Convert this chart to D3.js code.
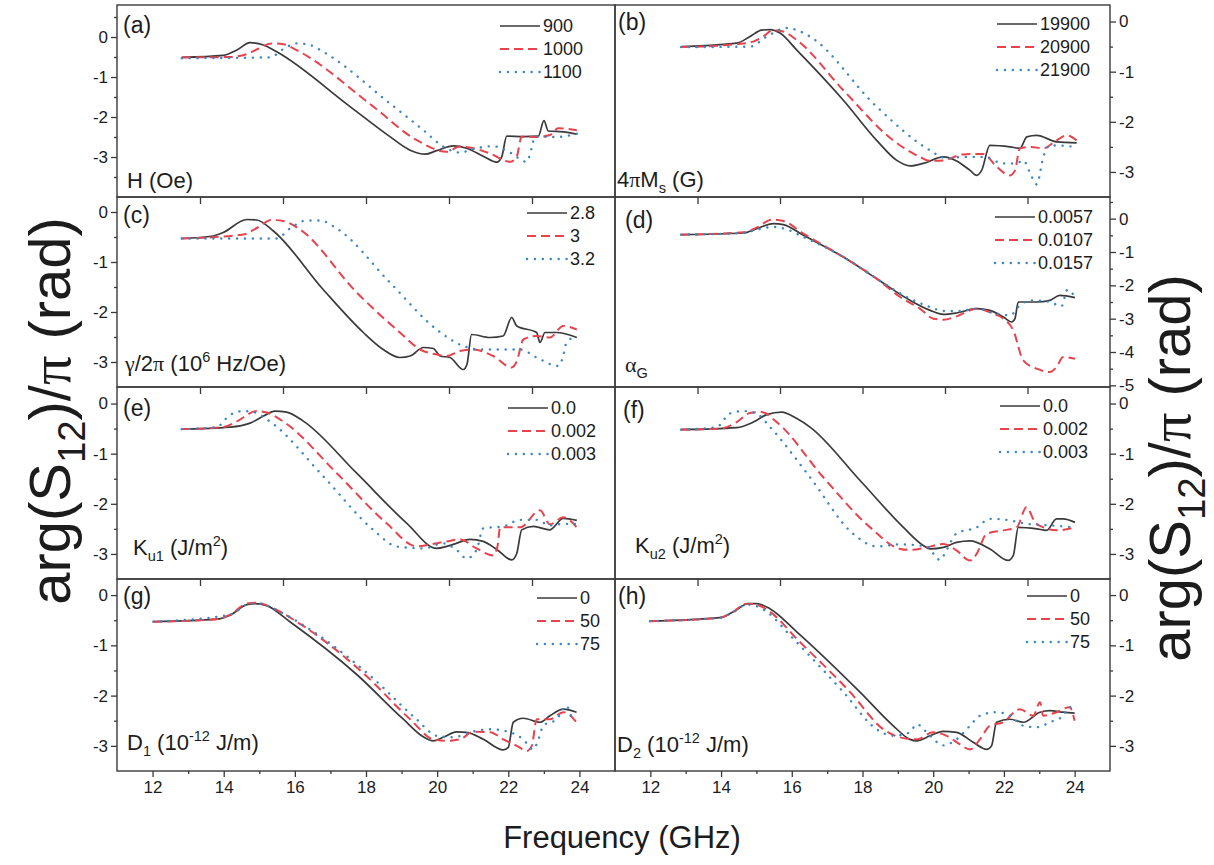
<!DOCTYPE html>
<html>
<head>
<meta charset="utf-8">
<script src="https://cdn.jsdelivr.net/npm/d3@7"></script>
<style>
  html, body { margin: 0; padding: 0; background: #fff; }
  svg { display: block; }
</style>
</head>
<body>
<svg id="chart" width="1214" height="865"></svg>
<script>
// ---------- data: phase arg(S12)/pi versus frequency (GHz) ----------
// (a) bias field H (Oe)
const aLabels = ["900", "1000", "1100"];
const aSolid = [[11.95,-0.51],[13.2,-0.46],[13.6,-0.33],[14.01,-0.14],[14.41,-0.2],[14.81,-0.37],[17.02,-1.74],[18.22,-2.49],[18.83,-2.83],[19.28,-2.93],[19.63,-2.84],[20.13,-2.72],[20.53,-2.78],[21.03,-2.98],[21.44,-3.13],[21.59,-2.99],[21.74,-2.48],[22.24,-2.49],[22.69,-2.48],[22.86,-2.09],[22.99,-2.35],[23.44,-2.37],[23.85,-2.43]];
const aDash = [[11.95,-0.51],[13.4,-0.5],[13.91,-0.43],[14.21,-0.31],[14.66,-0.16],[15.01,-0.18],[15.41,-0.33],[17.72,-1.74],[19.03,-2.58],[19.93,-2.87],[20.33,-2.74],[20.73,-2.78],[21.23,-2.91],[21.84,-3.12],[22.04,-2.99],[22.19,-2.49],[22.64,-2.5],[23.04,-2.45],[23.29,-2.28],[23.85,-2.33]];
const aDot = [[11.95,-0.53],[14.61,-0.51],[15.01,-0.3],[15.41,-0.16],[15.81,-0.2],[16.21,-0.37],[18.22,-1.66],[19.23,-2.33],[19.83,-2.74],[20.33,-2.89],[20.73,-2.8],[21.33,-2.73],[21.84,-2.89],[22.34,-3.12],[22.49,-2.77],[22.59,-2.49],[23.24,-2.5],[23.85,-2.42]];

// (b) saturation magnetisation 4piMs (G)
const bLabels = ["19900", "20900", "21900"];
const bSolid = [[12.0,-0.5],[13.69,-0.43],[14.09,-0.3],[14.44,-0.17],[14.7,-0.16],[15.0,-0.23],[15.51,-0.57],[16.92,-1.57],[17.93,-2.37],[18.54,-2.77],[18.94,-2.88],[19.34,-2.83],[19.95,-2.7],[20.35,-2.78],[20.76,-2.97],[20.96,-3.07],[21.11,-2.97],[21.36,-2.47],[21.97,-2.5],[22.27,-2.53],[22.48,-2.3],[22.78,-2.27],[23.38,-2.4],[23.99,-2.42]];
const bDash = [[12.0,-0.51],[13.69,-0.45],[14.19,-0.4],[14.49,-0.3],[14.8,-0.17],[15.1,-0.2],[15.51,-0.37],[16.92,-1.37],[18.43,-2.37],[19.24,-2.7],[19.55,-2.78],[19.95,-2.77],[20.55,-2.65],[21.16,-2.64],[21.57,-2.9],[21.97,-3.07],[22.12,-2.97],[22.27,-2.53],[22.58,-2.5],[22.98,-2.53],[23.38,-2.37],[23.69,-2.27],[23.99,-2.37]];
const bDot = [[12.0,-0.51],[14.09,-0.5],[14.6,-0.3],[15.2,-0.13],[15.51,-0.17],[15.91,-0.3],[17.93,-1.7],[19.55,-2.57],[20.05,-2.73],[20.55,-2.7],[21.16,-2.7],[21.77,-2.83],[22.17,-2.83],[22.37,-2.77],[22.63,-3.1],[22.78,-3.25],[22.98,-2.7],[23.18,-2.47],[23.99,-2.5]];

// (c) gyromagnetic ratio gamma/2pi (10^6 Hz/Oe)
const cLabels = ["2.8", "3", "3.2"];
const cSolid = [[11.95,-0.53],[12.9,-0.48],[13.2,-0.41],[13.91,-0.15],[14.21,-0.16],[14.71,-0.38],[16.21,-1.55],[17.42,-2.41],[18.02,-2.75],[18.52,-2.91],[18.83,-2.88],[19.23,-2.71],[19.53,-2.73],[19.73,-2.88],[20.03,-2.91],[20.43,-3.15],[20.54,-3.05],[20.68,-2.45],[21.23,-2.51],[21.63,-2.48],[21.89,-2.11],[22.04,-2.28],[22.64,-2.41],[22.74,-2.61],[22.89,-2.41],[23.24,-2.41],[23.85,-2.51]];
const cDash = [[11.95,-0.53],[13.81,-0.45],[14.21,-0.32],[14.66,-0.16],[15.01,-0.18],[15.51,-0.35],[17.22,-1.61],[18.52,-2.41],[19.13,-2.75],[19.63,-2.85],[19.93,-2.88],[20.33,-2.78],[20.73,-2.75],[21.33,-2.88],[21.89,-3.11],[22.04,-2.99],[22.24,-2.55],[22.64,-2.48],[23.04,-2.51],[23.44,-2.28],[23.85,-2.35]];
const cDot = [[11.95,-0.53],[14.81,-0.53],[15.21,-0.33],[15.71,-0.17],[16.11,-0.17],[16.62,-0.33],[18.22,-1.41],[19.63,-2.35],[20.43,-2.68],[20.93,-2.75],[21.54,-2.75],[22.14,-2.75],[22.64,-2.91],[23.29,-3.08],[23.44,-2.88],[23.54,-2.61],[23.85,-2.48]];

// (d) Gilbert damping alpha_G
const dLabels = ["0.0057", "0.0107", "0.0157"];
const dSolid = [[12.0,-0.48],[13.89,-0.43],[14.29,-0.3],[14.8,-0.15],[15.1,-0.18],[15.71,-0.5],[16.92,-1.15],[17.93,-1.8],[18.94,-2.45],[19.55,-2.75],[19.95,-2.87],[20.35,-2.83],[20.96,-2.7],[21.36,-2.75],[21.77,-2.95],[22.02,-3.1],[22.12,-3.0],[22.22,-2.5],[22.78,-2.5],[23.18,-2.45],[23.48,-2.3],[23.94,-2.37]];
const dDash = [[12.0,-0.48],[13.89,-0.41],[14.29,-0.27],[14.75,-0.03],[15.1,-0.07],[15.71,-0.45],[16.92,-1.15],[17.93,-1.8],[18.64,-2.35],[19.24,-2.7],[19.65,-3.0],[19.95,-3.03],[20.35,-2.93],[20.96,-2.7],[21.46,-2.85],[21.77,-3.0],[22.07,-3.35],[22.37,-4.25],[22.78,-4.5],[23.18,-4.6],[23.38,-4.45],[23.58,-4.15],[23.94,-4.2]];
const dDot = [[12.0,-0.48],[13.89,-0.43],[14.29,-0.33],[14.8,-0.25],[15.2,-0.32],[15.71,-0.55],[16.92,-1.15],[17.93,-1.8],[18.94,-2.4],[19.55,-2.65],[19.95,-2.77],[20.45,-2.77],[20.96,-2.7],[21.46,-2.83],[21.97,-2.9],[22.27,-2.6],[22.58,-2.45],[23.18,-2.5],[23.53,-2.63],[23.71,-2.13],[23.94,-2.35]];

// (e) first-order uniaxial anisotropy Ku1 (J/m^2)
const eLabels = ["0.0", "0.002", "0.003"];
const eSolid = [[11.95,-0.51],[13.4,-0.47],[14.01,-0.39],[14.41,-0.25],[14.76,-0.15],[15.11,-0.17],[15.61,-0.35],[17.22,-1.39],[18.73,-2.39],[19.63,-2.89],[19.93,-2.85],[20.13,-2.81],[20.63,-2.71],[21.03,-2.75],[21.44,-2.91],[21.89,-3.12],[22.04,-2.99],[22.19,-2.52],[22.54,-2.45],[23.04,-2.52],[23.44,-2.29],[23.85,-2.33]];
const eDash = [[11.95,-0.51],[13.2,-0.47],[13.6,-0.36],[14.21,-0.15],[14.51,-0.18],[15.01,-0.36],[16.62,-1.39],[18.12,-2.39],[19.03,-2.85],[19.43,-2.81],[19.93,-2.75],[20.33,-2.71],[20.83,-2.89],[21.33,-3.03],[21.46,-2.85],[21.54,-2.47],[22.14,-2.47],[22.74,-2.13],[23.04,-2.41],[23.44,-2.27],[23.85,-2.47]];
const eDot = [[11.95,-0.51],[13.0,-0.47],[13.4,-0.23],[13.81,-0.15],[14.11,-0.17],[14.61,-0.36],[16.21,-1.45],[17.72,-2.52],[18.42,-2.85],[19.23,-2.89],[19.83,-2.79],[20.23,-2.92],[20.53,-3.09],[20.83,-2.92],[21.03,-2.49],[21.64,-2.45],[22.14,-2.32],[22.64,-2.32],[23.04,-2.43],[23.44,-2.4],[23.85,-2.4]];

// (f) second-order uniaxial anisotropy Ku2 (J/m^2)
const fLabels = ["0.0", "0.002", "0.003"];
const fSolid = [[12.0,-0.52],[13.69,-0.48],[14.19,-0.37],[14.6,-0.22],[15.05,-0.17],[15.51,-0.3],[15.91,-0.47],[17.42,-1.53],[18.74,-2.47],[19.34,-2.83],[19.55,-2.9],[19.95,-2.87],[20.35,-2.77],[20.76,-2.74],[21.36,-2.9],[21.92,-3.13],[22.07,-3.03],[22.22,-2.47],[22.78,-2.5],[23.08,-2.53],[23.38,-2.3],[23.58,-2.3],[23.94,-2.37]];
const fDash = [[12.0,-0.52],[13.18,-0.5],[13.69,-0.37],[14.09,-0.19],[14.44,-0.17],[14.9,-0.37],[16.31,-1.47],[17.73,-2.47],[18.64,-2.9],[18.94,-2.92],[19.44,-2.87],[19.95,-2.8],[20.35,-2.93],[20.76,-3.13],[20.96,-3.0],[21.26,-2.6],[21.77,-2.53],[22.17,-2.47],[22.47,-2.07],[22.73,-2.37],[22.98,-2.47],[23.38,-2.53],[23.94,-2.47]];
const fDot = [[12.0,-0.52],[13.08,-0.47],[13.48,-0.2],[13.89,-0.15],[14.29,-0.2],[14.7,-0.47],[15.91,-1.47],[17.22,-2.6],[17.93,-2.85],[18.64,-2.81],[19.44,-2.85],[19.85,-3.12],[20.05,-2.92],[20.35,-2.59],[20.96,-2.47],[21.36,-2.3],[21.97,-2.33],[22.47,-2.4],[23.18,-2.43],[23.94,-2.47]];

// (g) DMI constant D1 (10^-12 J/m)
const gLabels = ["0", "50", "75"];
const gSolid = [[12.02,-0.53],[13.8,-0.48],[14.18,-0.4],[14.65,-0.19],[14.88,-0.17],[15.21,-0.21],[15.86,-0.53],[17.74,-1.58],[19.05,-2.47],[19.61,-2.82],[19.89,-2.9],[20.17,-2.83],[20.55,-2.72],[20.83,-2.73],[21.3,-2.87],[21.86,-3.08],[22.0,-3.03],[22.14,-2.53],[22.42,-2.45],[22.89,-2.53],[23.17,-2.4],[23.55,-2.27],[23.92,-2.33]];
const gDash = [[12.02,-0.53],[13.8,-0.48],[14.18,-0.39],[14.65,-0.17],[14.93,-0.15],[15.3,-0.23],[16.05,-0.53],[17.92,-1.55],[19.24,-2.47],[19.89,-2.87],[20.27,-2.9],[20.64,-2.87],[21.02,-2.72],[21.49,-2.73],[21.86,-2.87],[22.24,-3.0],[22.52,-3.1],[22.66,-3.0],[22.8,-2.47],[23.17,-2.47],[23.55,-2.33],[23.92,-2.53]];
const gDot = [[12.02,-0.53],[14.18,-0.39],[14.74,-0.17],[15.02,-0.17],[15.4,-0.27],[16.24,-0.6],[18.11,-1.6],[19.42,-2.47],[19.99,-2.8],[20.46,-2.83],[20.92,-2.73],[21.49,-2.67],[22.05,-2.73],[22.42,-2.87],[22.7,-3.07],[22.85,-2.87],[22.98,-2.6],[23.36,-2.47],[23.64,-2.2],[23.78,-2.4],[23.92,-2.4]];

// (h) DMI constant D2 (10^-12 J/m)
const hLabels = ["0", "50", "75"];
const hSolid = [[11.99,-0.52],[13.97,-0.45],[14.35,-0.33],[14.77,-0.17],[15.0,-0.17],[15.38,-0.27],[16.14,-0.73],[17.93,-1.93],[18.87,-2.6],[19.34,-2.87],[19.53,-2.9],[19.91,-2.8],[20.28,-2.71],[20.66,-2.73],[21.13,-2.93],[21.51,-3.07],[21.65,-3.0],[21.79,-2.53],[22.17,-2.47],[22.55,-2.53],[23.02,-2.33],[23.3,-2.3],[23.68,-2.33],[24.0,-2.35]];
const hDash = [[11.99,-0.52],[13.97,-0.45],[14.35,-0.33],[14.72,-0.17],[15.0,-0.19],[15.38,-0.33],[16.14,-0.87],[17.65,-1.93],[18.59,-2.67],[19.06,-2.83],[19.53,-2.87],[20.0,-2.73],[20.38,-2.8],[20.76,-2.97],[21.04,-3.07],[21.32,-2.87],[21.6,-2.6],[21.98,-2.53],[22.45,-2.27],[22.83,-2.4],[23.02,-2.13],[23.11,-2.4],[23.49,-2.33],[23.86,-2.23],[24.0,-2.5]];
const hDot = [[11.99,-0.52],[13.97,-0.45],[14.35,-0.34],[14.72,-0.19],[15.0,-0.22],[15.29,-0.33],[15.95,-0.8],[17.46,-1.93],[18.4,-2.67],[18.87,-2.8],[19.34,-2.73],[19.53,-2.57],[19.91,-2.8],[20.28,-2.99],[20.66,-2.87],[21.04,-2.6],[21.32,-2.4],[21.79,-2.33],[22.17,-2.4],[22.55,-2.6],[22.92,-2.63],[23.3,-2.53],[23.68,-2.4],[23.86,-2.23],[24.0,-2.33]];

// axis tick values
const topFreqTicks = [12.5, 15, 17.5, 20, 22.5];
const bottomFreqTicks = [12, 14, 16, 18, 20, 22, 24];
const bottomFreqMinor = [13, 15, 17, 19, 21, 23];
const phaseTicks3 = [0, -1, -2, -3];
const phaseMinor3 = [0.5, -0.5, -1.5, -2.5, -3.5];
const phaseTicks5 = [0, -1, -2, -3, -4, -5];
const phaseMinor5 = [0.5, -0.5, -1.5, -2.5, -3.5, -4.5];

// ---------- layout and styles ----------
const FONT = "'Liberation Sans', Arial, Helvetica, sans-serif";
const GREEK = "'Liberation Serif', 'Times New Roman', serif";
const AXIS = "#3a3a3a";
const TEXT = "#1c1c1c";
const colX = [[117, 615], [615, 1110]];
const rowY = [5, 197, 387, 579, 771];

const lineStyles = [
  { stroke: "#3a3a3a", width: 1.7, dash: null, cap: "butt" },
  { stroke: "#e8434d", width: 2.0, dash: "9,5", cap: "butt" },
  { stroke: "#3d86c6", width: 2.4, dash: "0.1,7.8", cap: "round" }
];

const panels = [
  { tag: "(a)", col: 0, row: 0, yDom: [-4, 0.8], yT: phaseTicks3, yM: phaseMinor3,
    labels: aLabels, series: [aSolid, aDash, aDot],
    tagPos: [123, 33], legPos: [500, 26],
    name: [{ t: "H (Oe)" }], namePos: [127, 188] },
  { tag: "(b)", col: 1, row: 0, yDom: [-3.5, 0.33], yT: phaseTicks3, yM: phaseMinor3,
    labels: bLabels, series: [bSolid, bDash, bDot],
    tagPos: [618, 30], legPos: [997, 24],
    name: [{ t: "4" }, { t: "π", greek: true }, { t: "M" }, { t: "s", sub: true }, { t: " (G)" }], namePos: [617, 187] },
  { tag: "(c)", col: 0, row: 1, yDom: [-3.5, 0.3], yT: phaseTicks3, yM: phaseMinor3,
    labels: cLabels, series: [cSolid, cDash, cDot],
    tagPos: [123, 223], legPos: [527, 213],
    name: [{ t: "γ", greek: true }, { t: "/2" }, { t: "π", greek: true }, { t: " (10" }, { t: "6", sup: true }, { t: " Hz/Oe)" }], namePos: [125, 371] },
  { tag: "(d)", col: 1, row: 1, yDom: [-5.05, 0.65], yT: phaseTicks5, yM: phaseMinor5,
    labels: dLabels, series: [dSolid, dDash, dDot],
    tagPos: [625, 228], legPos: [995, 217],
    name: [{ t: "α", greek: true }, { t: "G", sub: true }], namePos: [625, 372] },
  { tag: "(e)", col: 0, row: 2, yDom: [-3.5, 0.33], yT: phaseTicks3, yM: phaseMinor3,
    labels: eLabels, series: [eSolid, eDash, eDot],
    tagPos: [123, 416], legPos: [508, 408],
    name: [{ t: "K" }, { t: "u1", sub: true }, { t: " (J/m" }, { t: "2", sup: true }, { t: ")" }], namePos: [133, 555] },
  { tag: "(f)", col: 1, row: 2, yDom: [-3.5, 0.33], yT: phaseTicks3, yM: phaseMinor3,
    labels: fLabels, series: [fSolid, fDash, fDot],
    tagPos: [623, 418], legPos: [1000, 406],
    name: [{ t: "K" }, { t: "u2", sub: true }, { t: " (J/m" }, { t: "2", sup: true }, { t: ")" }], namePos: [635, 553] },
  { tag: "(g)", col: 0, row: 3, yDom: [-3.5, 0.32], yT: phaseTicks3, yM: phaseMinor3,
    labels: gLabels, series: [gSolid, gDash, gDot],
    tagPos: [123, 604], legPos: [537, 598],
    name: [{ t: "D" }, { t: "1", sub: true }, { t: " (10" }, { t: "-12", sup: true }, { t: " J/m)" }], namePos: [127, 750] },
  { tag: "(h)", col: 1, row: 3, yDom: [-3.5, 0.32], yT: phaseTicks3, yM: phaseMinor3,
    labels: hLabels, series: [hSolid, hDash, hDot],
    tagPos: [618, 604], legPos: [1027, 596],
    name: [{ t: "D" }, { t: "2", sub: true }, { t: " (10" }, { t: "-12", sup: true }, { t: " J/m)" }], namePos: [617, 752] }
];

const svg = d3.select("#chart");

// text with sub/superscript and greek runs
function richText(parent, parts, x, y, size, anchor) {
  const t = parent.append("text")
    .attr("x", x).attr("y", y)
    .attr("font-family", FONT).attr("font-size", size)
    .attr("fill", TEXT);
  if (anchor) t.attr("text-anchor", anchor);
  let shift = 0;
  parts.forEach(p => {
    let target = 0, fs = size;
    if (p.sub) { target = size * 0.26; fs = size * 0.66; }
    if (p.sup) { target = -size * 0.40; fs = size * 0.66; }
    const s = t.append("tspan").text(p.t).attr("font-size", fs);
    if (target - shift !== 0) s.attr("dy", target - shift);
    if (p.greek) s.attr("font-family", GREEK);
    shift = target;
  });
  return t;
}

function styleAxis(sel, fontSize) {
  sel.select(".domain").remove();
  sel.selectAll(".tick line").attr("stroke", AXIS).attr("stroke-width", 1.3);
  sel.selectAll(".tick text")
    .attr("font-family", FONT).attr("font-size", fontSize).attr("fill", TEXT);
}

panels.forEach(p => {
  const [x0, x1] = colX[p.col];
  const y0 = rowY[p.row], y1 = rowY[p.row + 1];
  const bottomRow = p.row === 3;
  const x = d3.scaleLinear().domain(bottomRow ? [11, 25] : [10, 25]).range([x0, x1]);
  const y = d3.scaleLinear().domain(p.yDom).range([y1, y0]);
  const g = svg.append("g");

  // curves
  const line = d3.line().x(d => x(d[0])).y(d => y(d[1])).curve(d3.curveMonotoneX);
  p.series.forEach((s, i) => {
    const st = lineStyles[i];
    g.append("path").datum(s)
      .attr("d", line)
      .attr("fill", "none")
      .attr("stroke", st.stroke)
      .attr("stroke-width", st.width)
      .attr("stroke-linecap", st.cap)
      .attr("stroke-linejoin", "round")
      .attr("stroke-dasharray", st.dash);
  });

  // y axis (left column on the left, right column on the right)
  const yAxis = (p.col === 0 ? d3.axisLeft(y) : d3.axisRight(y));
  const yMinor = (p.col === 0 ? d3.axisLeft(y) : d3.axisRight(y));
  const ax = p.col === 0 ? x0 : x1;
  g.append("g").attr("transform", `translate(${ax},0)`)
    .call(yAxis.tickValues(p.yT).tickSize(6).tickPadding(3).tickSizeOuter(0).tickFormat(d => String(d)))
    .call(s => styleAxis(s, 17));
  g.append("g").attr("transform", `translate(${ax},0)`)
    .call(yMinor.tickValues(p.yM.filter(v => v > p.yDom[0] && v < p.yDom[1])).tickSize(3).tickSizeOuter(0).tickFormat(""))
    .call(s => styleAxis(s, 17));

  // x axis ticks along the bottom edge
  if (bottomRow) {
    g.append("g").attr("transform", `translate(0,${y1})`)
      .call(d3.axisBottom(x).tickValues(bottomFreqTicks).tickSize(6).tickPadding(4).tickSizeOuter(0).tickFormat(d => String(d)))
      .call(s => styleAxis(s, 17));
    g.append("g").attr("transform", `translate(0,${y1})`)
      .call(d3.axisBottom(x).tickValues(bottomFreqMinor).tickSize(3).tickSizeOuter(0).tickFormat(""))
      .call(s => styleAxis(s, 17));
  } else {
    g.append("g").attr("transform", `translate(0,${y1})`)
      .call(d3.axisBottom(x).tickValues(topFreqTicks).tickSize(7).tickSizeOuter(0).tickFormat(""))
      .call(s => styleAxis(s, 17));
  }

  // frame
  g.append("rect")
    .attr("x", x0).attr("y", y0).attr("width", x1 - x0).attr("height", y1 - y0)
    .attr("fill", "none").attr("stroke", AXIS).attr("stroke-width", 1.4);

  // legend
  p.labels.forEach((lab, i) => {
    const st = lineStyles[i];
    const ly = p.legPos[1] + i * 23;
    g.append("line")
      .attr("x1", p.legPos[0]).attr("x2", p.legPos[0] + 40)
      .attr("y1", ly).attr("y2", ly)
      .attr("stroke", st.stroke).attr("stroke-width", st.width)
      .attr("stroke-linecap", st.cap).attr("stroke-dasharray", st.dash);
    g.append("text")
      .attr("x", p.legPos[0] + 43).attr("y", ly).attr("dy", "0.36em")
      .attr("font-family", FONT).attr("font-size", 18).attr("fill", TEXT)
      .text(lab);
  });

  // panel tag and parameter name
  g.append("text").attr("x", p.tagPos[0]).attr("y", p.tagPos[1])
    .attr("font-family", FONT).attr("font-size", 23).attr("fill", TEXT).text(p.tag);
  richText(g, p.name, p.namePos[0], p.namePos[1], 22);
});

// shared axis titles
const yTitle = [{ t: "arg(S" }, { t: "12", sub: true }, { t: ")/" }, { t: "π", greek: true }, { t: " (rad)" }];
[[50, 411], [1170, 468]].forEach(([cx, cy]) => {
  const gy = svg.append("g").attr("transform", `translate(${cx},${cy}) rotate(-90)`);
  richText(gy, yTitle, 0, 20, 58, "middle");
});
svg.append("text")
  .attr("x", 622).attr("y", 848).attr("text-anchor", "middle")
  .attr("font-family", FONT).attr("font-size", 31).attr("fill", TEXT)
  .text("Frequency (GHz)");
</script>
</body>
</html>
